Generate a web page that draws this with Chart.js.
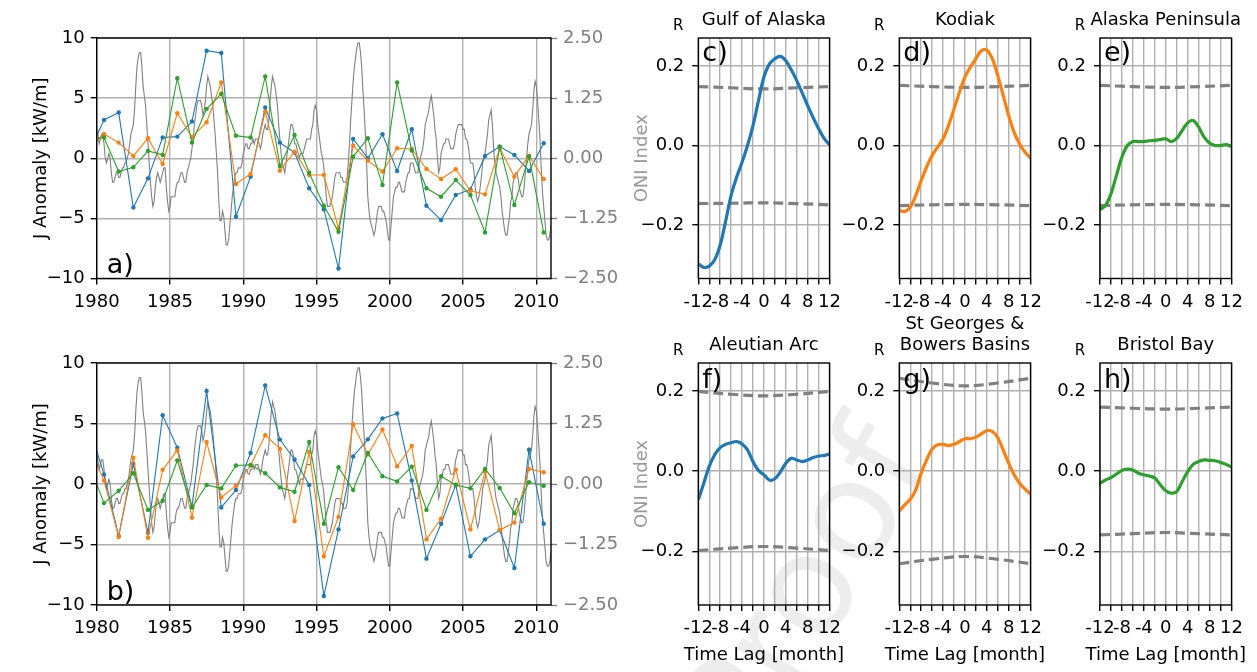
<!DOCTYPE html>
<html>
<head>
<meta charset="utf-8">
<title>J anomalies and ONI lag correlations</title>
<script src="https://cdn.jsdelivr.net/npm/chart.js@4.4.1/dist/chart.umd.min.js"></script>
<style>
  html, body { margin: 0; padding: 0; background: #fff; }
  body { position: relative; width: 1257px; height: 672px; overflow: hidden; font-family: "DejaVu Sans", sans-serif; }
  canvas { position: absolute; }
  #stamp {
    position: absolute; left: 653px; top: 710px; font-size: 140px; line-height: 1; color: rgba(0, 0, 0, 0.07);
    transform: rotate(-60deg); transform-origin: 0 0; pointer-events: none; white-space: nowrap;
  }
</style>
</head>
<body>
<div id="stamp">Proof</div>
<script>
const YEARS = [1979, 1980, 1981, 1982, 1983, 1984, 1985, 1986, 1987, 1988, 1989, 1990, 1991, 1992, 1993, 1994, 1995,
               1996, 1997, 1998, 1999, 2000, 2001, 2002, 2003, 2004, 2005, 2006, 2007, 2008, 2009, 2010];

// annual J anomalies [kW/m], one value per year
const GULF_OF_ALASKA   = [0.53, 3.19, 3.8, -4.1, -1.67, 1.72, 1.8, 3.05, 8.94, 8.75, -4.87, -1.53, 4.22, 1.3, 0.47, -2.5, -4.24,
                          -9.17, 1.61, 0.0, 2.0, -1.06, 2.41, -3.95, -5.14, -3.06, -2.59, 0.19, 0.97, 0.27, -1.06, 1.25];
const KODIAK           = [0.78, 2.02, 1.3, 0.19, 1.66, -0.48, 3.75, 1.75, 3.0, 6.3, -2.14, -1.31, 3.88, -1.03, 0.55, -1.39, -1.39,
                          -5.84, 1.05, -0.2, -1.1, 0.83, 0.77, -0.89, -1.73, -0.92, -2.7, -3.0, 0.83, -1.53, 0.22, -1.73];
const ALASKA_PENINSULA = [1.6, 1.72, -1.1, -0.75, 0.61, 0.28, 6.66, 1.3, 4.11, 5.36, 1.88, 1.72, 6.8, -0.64, 1.94, -1.2, -3.95,
                          -6.12, 0.14, 1.66, -2.23, 6.3, 0.64, -2.5, -3.2, -1.81, -3.06, -6.17, 0.97, -3.89, 0.14, -6.17];
const ALEUTIAN_ARC     = [4.78, 0.78, -4.3, 1.67, -4.03, 5.69, 3.0, -1.89, 7.69, -1.94, -0.5, 2.56, 8.14, 3.67, 2.03, -0.08, -9.25,
                          -3.75, 2.28, 3.69, 5.42, 5.83, 0.28, -6.17, -3.28, -0.06, -5.97, -4.58, -3.83, -6.94, 2.83, -3.28];
const ST_GEORGES       = [3.06, 0.28, -4.39, 2.17, -4.44, 1.17, 2.78, -2.78, 3.47, -1.11, -0.14, 1.53, 4.03, 2.92, -3.06, 2.64, -5.97,
                          -2.72, 4.94, 2.44, 4.5, 1.47, 3.14, -4.58, -2.86, 1.19, -3.75, 1.06, -3.81, -3.19, 1.25, 0.97];
const BRISTOL_BAY      = [1.58, -1.58, -0.56, 0.89, -2.14, -1.39, 1.94, -1.94, -0.08, -0.36, 1.53, 1.58, 0.89, -0.28, -0.64, 3.47, -3.28,
                          1.39, -0.5, 2.56, 0.64, 0.22, 1.44, -2.14, 0.64, -0.08, -0.36, 1.25, -0.33, -2.42, 0.14, -0.14];

// ONI, monthly running 3-month means from Jan 1980
const ONI_START = 1980;
const ONI = [
   0.6,  0.5,  0.3,  0.4,  0.5,  0.5,  0.3,  0.0, -0.1,  0.0,  0.1,  0.0,   // 1980
  -0.3, -0.5, -0.5, -0.4, -0.3, -0.3, -0.4, -0.4, -0.3, -0.2, -0.2, -0.1,   // 1981
  -0.1,  0.0,  0.1,  0.3,  0.5,  0.6,  0.7,  1.0,  1.5,  1.9,  2.1,  2.2,   // 1982
   2.2,  1.9,  1.5,  1.3,  1.1,  0.7,  0.3, -0.1, -0.5, -0.8, -1.0, -0.9,   // 1983
  -0.6, -0.4, -0.3, -0.4, -0.5, -0.4, -0.3, -0.2, -0.2, -0.6, -0.9, -1.1,   // 1984
  -1.0, -0.8, -0.8, -0.8, -0.8, -0.6, -0.5, -0.5, -0.4, -0.3, -0.3, -0.4,   // 1985
  -0.5, -0.5, -0.3, -0.2, -0.1,  0.0,  0.2,  0.4,  0.7,  0.9,  1.1,  1.2,   // 1986
   1.2,  1.2,  1.1,  0.9,  1.0,  1.2,  1.5,  1.7,  1.6,  1.5,  1.3,  1.1,   // 1987
   0.8,  0.5,  0.1, -0.3, -0.9, -1.3, -1.3, -1.1, -1.2, -1.5, -1.8, -1.8,   // 1988
  -1.7, -1.4, -1.1, -0.8, -0.6, -0.4, -0.3, -0.3, -0.2, -0.2, -0.2, -0.1,   // 1989
   0.1,  0.2,  0.3,  0.3,  0.2,  0.2,  0.3,  0.3,  0.4,  0.3,  0.4,  0.4,   // 1990
   0.4,  0.3,  0.2,  0.3,  0.5,  0.6,  0.7,  0.6,  0.6,  0.8,  1.2,  1.5,   // 1991
   1.7,  1.6,  1.5,  1.3,  1.1,  0.7,  0.4,  0.1, -0.1, -0.2, -0.3, -0.1,   // 1992
   0.1,  0.3,  0.5,  0.7,  0.7,  0.6,  0.3,  0.3,  0.2,  0.1,  0.0,  0.1,   // 1993
   0.1,  0.1,  0.2,  0.3,  0.4,  0.4,  0.4,  0.4,  0.6,  0.7,  1.0,  1.1,   // 1994
   1.0,  0.7,  0.5,  0.3,  0.1,  0.0, -0.2, -0.5, -0.8, -1.0, -1.0, -1.0,   // 1995
  -0.9, -0.8, -0.6, -0.4, -0.3, -0.3, -0.3, -0.3, -0.4, -0.4, -0.5, -0.5,   // 1996
  -0.5, -0.4, -0.1,  0.3,  0.8,  1.2,  1.6,  1.9,  2.1,  2.3,  2.4,  2.4,   // 1997
   2.2,  1.9,  1.4,  1.0,  0.5, -0.1, -0.8, -1.1, -1.3, -1.4, -1.5, -1.6,   // 1998
  -1.5, -1.3, -1.1, -1.0, -1.0, -1.0, -1.1, -1.1, -1.2, -1.3, -1.5, -1.7,   // 1999
  -1.7, -1.4, -1.1, -0.8, -0.7, -0.6, -0.6, -0.5, -0.5, -0.6, -0.7, -0.7,   // 2000
  -0.7, -0.5, -0.4, -0.3, -0.3, -0.1, -0.1, -0.1, -0.2, -0.3, -0.3, -0.3,   // 2001
  -0.1,  0.0,  0.1,  0.2,  0.4,  0.7,  0.8,  0.9,  1.0,  1.2,  1.3,  1.1,   // 2002
   0.9,  0.6,  0.4,  0.0, -0.3, -0.2,  0.1,  0.2,  0.3,  0.3,  0.4,  0.4,   // 2003
   0.4,  0.3,  0.2,  0.2,  0.2,  0.3,  0.5,  0.6,  0.7,  0.7,  0.7,  0.7,   // 2004
   0.6,  0.6,  0.4,  0.4,  0.3,  0.1, -0.1, -0.1, -0.1, -0.3, -0.6, -0.8,   // 2005
  -0.9, -0.8, -0.6, -0.4, -0.1,  0.0,  0.1,  0.3,  0.5,  0.8,  0.9,  1.0,   // 2006
   0.7,  0.2, -0.1, -0.3, -0.4, -0.5, -0.6, -0.8, -1.1, -1.3, -1.5, -1.6,   // 2007
  -1.6, -1.4, -1.2, -0.9, -0.8, -0.5, -0.4, -0.3, -0.3, -0.4, -0.6, -0.7,   // 2008
  -0.8, -0.8, -0.6, -0.3,  0.0,  0.3,  0.5,  0.6,  0.7,  1.0,  1.4,  1.6,   // 2009
   1.5,  1.2,  0.8,  0.4, -0.2, -0.7, -1.0, -1.3, -1.6, -1.7, -1.7, -1.6,   // 2010
  -1.4                                                                      // 2011
];

// lagged correlation R between regional J and ONI
const LAGS = [-12, -11, -10, -9, -8, -7, -6, -5, -4, -3, -2, -1, 0, 1, 2, 3, 4, 5, 6, 7, 8, 9, 10, 11, 12];
const R_GULF     = [-0.297, -0.306, -0.303, -0.287, -0.25, -0.19, -0.125, -0.08, -0.042, 0.0, 0.05, 0.112, 0.172,
                    0.205, 0.218, 0.224, 0.213, 0.19, 0.163, 0.132, 0.1, 0.07, 0.042, 0.018, 0.002];
const R_KODIAK   = [-0.163, -0.166, -0.155, -0.126, -0.088, -0.054, -0.025, -0.004, 0.017, 0.05, 0.092, 0.134, 0.172,
                    0.197, 0.218, 0.238, 0.24, 0.218, 0.176, 0.126, 0.075, 0.033, 0.004, -0.017, -0.032];
const R_PENINSULA= [-0.161, -0.151, -0.121, -0.075, -0.029, 0.0, 0.01, 0.01, 0.01, 0.012, 0.013, 0.015, 0.017,
                    0.01, 0.018, 0.038, 0.057, 0.063, 0.046, 0.021, 0.006, 0.0, 0.0, 0.002, -0.002];
const R_ALEUTIAN = [-0.071, -0.03, 0.012, 0.041, 0.059, 0.067, 0.071, 0.074, 0.068, 0.053, 0.024, 0.002, -0.009,
                    -0.022, -0.019, -0.002, 0.02, 0.032, 0.028, 0.024, 0.028, 0.034, 0.038, 0.039, 0.043];
const R_GEORGES  = [-0.1, -0.084, -0.07, -0.047, -0.005, 0.028, 0.055, 0.066, 0.067, 0.064, 0.067, 0.074, 0.081,
                    0.081, 0.085, 0.093, 0.101, 0.099, 0.084, 0.053, 0.02, -0.009, -0.03, -0.045, -0.057];
const R_BRISTOL  = [-0.03, -0.022, -0.016, -0.007, 0.002, 0.005, 0.003, -0.005, -0.009, -0.012, -0.017, -0.034, -0.049,
                    -0.055, -0.051, -0.026, -0.001, 0.017, 0.024, 0.028, 0.027, 0.026, 0.022, 0.017, 0.01];

// 95% significance bounds
const SIG_LAGS = [-12, -6, 0, 6, 12];
const SIG_GULF      = [[0.148, 0.145, 0.142, 0.145, 0.148], [-0.146, -0.145, -0.144, -0.146, -0.149]];
const SIG_KODIAK    = [[0.151, 0.148, 0.146, 0.148, 0.151], [-0.151, -0.149, -0.148, -0.149, -0.151]];
const SIG_PENINSULA = [[0.151, 0.148, 0.146, 0.148, 0.151], [-0.151, -0.149, -0.148, -0.149, -0.151]];
const SIG_ALEUTIAN  = [[0.199, 0.192, 0.188, 0.192, 0.199], [-0.198, -0.192, -0.188, -0.192, -0.198]];
const SIG_GEORGES   = [[0.232, 0.220, 0.213, 0.220, 0.232], [-0.231, -0.220, -0.213, -0.220, -0.231]];
const SIG_BRISTOL   = [[0.160, 0.157, 0.155, 0.157, 0.160], [-0.159, -0.156, -0.153, -0.156, -0.159]];

const YEAR_TICKS = [1980, 1985, 1990, 1995, 2000, 2005, 2010];
const J_TICKS = [-10, -5, 0, 5, 10];
const ONI_TICKS = [-2.5, -1.25, 0, 1.25, 2.5];
const LAG_TICKS = [-12, -10, -8, -6, -4, -2, 0, 2, 4, 6, 8, 10, 12];
const R_TICKS = [-0.2, 0, 0.2];

const BLUE = "#1f77b4", ORANGE = "#ff7f0e", GREEN = "#2ca02c", GREY = "#808080", GRID = "#b0b0b0";
const FONT = '"DejaVu Sans", sans-serif';

Chart.defaults.font.family = FONT;
Chart.defaults.font.size = 18;
Chart.defaults.color = "#000";

const minus = s => String(s).replace("-", "\u2212");
const fixTicks = list => s => { s.ticks = list.map(value => ({ value })); };

// black box round each plot area
const frame = {
  id: "frame",
  afterDatasetsDraw(chart) {
    const { ctx, chartArea: a } = chart;
    ctx.save();
    ctx.strokeStyle = "#000";
    ctx.lineWidth = 1.4;
    ctx.strokeRect(a.left, a.top, a.right - a.left, a.bottom - a.top);
    ctx.restore();
  }
};

// panel letter, region title, the "R" tag and the lag axis label
const panelText = {
  id: "panelText",
  afterDraw(chart, args, o) {
    const { ctx, chartArea: a } = chart;
    const cx = (a.left + a.right) / 2;
    ctx.save();
    ctx.fillStyle = "#000";
    ctx.textBaseline = "alphabetic";
    if (o.title) {
      ctx.font = `18px ${FONT}`;
      ctx.textAlign = "center";
      o.title.forEach((line, i) => ctx.fillText(line, cx, a.top - 13.5 - (o.title.length - 1 - i) * 21));
      ctx.font = `15px ${FONT}`;
      ctx.fillText("R", a.left - 20, a.top - 8);
    }
    if (o.xTitle) {
      ctx.font = `18px ${FONT}`;
      ctx.textAlign = "center";
      ctx.textBaseline = "middle";
      ctx.fillText(o.xTitle, cx, a.bottom + 50);
      ctx.textBaseline = "alphabetic";
    }
    if (o.letter) {
      ctx.font = `27px ${FONT}`;
      ctx.textAlign = "left";
      ctx.fillText(o.letter, a.left + o.dx, o.fromTop ? a.top + o.dy : a.bottom - o.dy);
    }
    ctx.restore();
  }
};
Chart.register(frame, panelText);

function mount(area, cv) {
  const canvas = document.createElement("canvas");
  canvas.width = cv.right - cv.left;
  canvas.height = cv.bottom - cv.top;
  canvas.style.left = cv.left + "px";
  canvas.style.top = cv.top + "px";
  document.body.appendChild(canvas);
  return {
    canvas,
    yWidth: area.x0 - cv.left,
    rightRoom: cv.right - area.x1,
    topRoom: area.y0 - cv.top,
    xHeight: cv.bottom - area.y1
  };
}

const gridStyle = () => ({ color: GRID, lineWidth: 1.4, tickColor: "#000", tickLength: 6, tickWidth: 1.4 });

function anomalyPanel(area, cv, series, letter) {
  const m = mount(area, cv);
  const datasets = series.map(([values, color], k) => ({
    data: values.map((v, i) => ({ x: YEARS[i] + 0.5, y: v })),
    yAxisID: "y",
    borderColor: color,
    backgroundColor: color,
    borderWidth: 1.1,
    pointRadius: 2.2,
    pointBorderWidth: 0,
    order: 3 - k
  }));
  datasets.push({
    data: ONI.map((v, i) => ({ x: ONI_START + i / 12, y: v })),
    yAxisID: "y2",
    borderColor: GREY,
    borderWidth: 1.1,
    pointRadius: 0,
    order: 10
  });

  new Chart(m.canvas, {
    type: "line",
    data: { datasets },
    options: {
      responsive: false,
      animation: false,
      events: [],
      layout: { padding: { left: 0, right: 0, top: m.topRoom, bottom: 0 } },
      plugins: {
        legend: { display: false },
        tooltip: { enabled: false },
        panelText: { letter, dx: 10, dy: 5.5, fromTop: false }
      },
      scales: {
        x: {
          type: "linear", min: 1980, max: 2011,
          afterBuildTicks: fixTicks(YEAR_TICKS),
          afterFit: s => { s.height = m.xHeight; },
          ticks: { callback: v => String(v), padding: 7, maxRotation: 0, autoSkip: false },
          grid: gridStyle(),
          border: { display: false }
        },
        y: {
          position: "left", min: -10, max: 10,
          afterBuildTicks: fixTicks(J_TICKS),
          afterFit: s => { s.width = m.yWidth; },
          ticks: { callback: v => minus(v), padding: 6 },
          grid: gridStyle(),
          border: { display: false },
          title: { display: true, text: "J Anomaly [kW/m]", padding: { top: 30.2, bottom: 0 } }
        },
        y2: {
          position: "right", min: -2.5, max: 2.5,
          afterBuildTicks: fixTicks(ONI_TICKS),
          afterFit: s => { s.width = m.rightRoom; },
          ticks: { color: GREY, callback: v => minus(v.toFixed(2)), padding: 6 },
          grid: { drawOnChartArea: false, color: GREY, tickColor: GREY, tickLength: 6, tickWidth: 1.4 },
          border: { display: false }
        }
      }
    }
  });
}

function lagPanel(area, cv, r, sig, color, title, letter, opts) {
  const m = mount(area, cv);
  const dashed = values => ({
    data: values.map((v, i) => ({ x: SIG_LAGS[i], y: v })),
    borderColor: GREY,
    borderWidth: 3.2,
    borderDash: [10, 5],
    pointRadius: 0,
    tension: 0.4,
    order: 2
  });
  new Chart(m.canvas, {
    type: "line",
    data: {
      datasets: [
        {
          data: r.map((v, i) => ({ x: LAGS[i], y: v })),
          borderColor: color,
          borderWidth: 3.2,
          pointRadius: 0,
          tension: 0.35,
          order: 1
        },
        dashed(sig[0]),
        dashed(sig[1])
      ]
    },
    options: {
      responsive: false,
      animation: false,
      events: [],
      layout: { padding: { left: 0, right: m.rightRoom, top: m.topRoom, bottom: 0 } },
      plugins: {
        legend: { display: false },
        tooltip: { enabled: false },
        panelText: {
          title, letter, dx: 4, dy: opts.letterDy, fromTop: true,
          xTitle: opts.xTitle ? "Time Lag [month]" : null
        }
      },
      scales: {
        x: {
          type: "linear", min: -12, max: 12,
          afterBuildTicks: fixTicks(LAG_TICKS),
          afterFit: s => { s.height = m.xHeight; },
          ticks: { callback: v => (v % 4 === 0 ? String(v) : ""), padding: 7, maxRotation: 0, autoSkip: false },
          grid: gridStyle(),
          border: { display: false }
        },
        y: {
          min: -0.334, max: 0.27,
          afterBuildTicks: fixTicks(R_TICKS),
          afterFit: s => { s.width = m.yWidth; },
          ticks: { callback: v => minus(v.toFixed(1)), padding: 8 },
          grid: gridStyle(),
          border: { display: false },
          title: { display: !!opts.yTitle, text: "ONI Index", color: "#999999", padding: { top: 5.2, bottom: 0 } }
        }
      }
    }
  });
}

// left column: J anomaly time series with ONI
const TOP = { y0: 38, y1: 278.5 }, BOTTOM = { y0: 363, y1: 605 };
anomalyPanel({ x0: 96.7, x1: 551, ...TOP }, { left: 0, top: 0, right: 630, bottom: 320 },
  [[GULF_OF_ALASKA, BLUE], [KODIAK, ORANGE], [ALASKA_PENINSULA, GREEN]], "a)");
anomalyPanel({ x0: 96.7, x1: 551, ...BOTTOM }, { left: 0, top: 322, right: 630, bottom: 672 },
  [[ALEUTIAN_ARC, BLUE], [ST_GEORGES, ORANGE], [BRISTOL_BAY, GREEN]], "b)");

// right block: lag correlations
const COLS = [{ x0: 698.3, x1: 832.3, left: 626, right: 848 },
              { x0: 899.3, x1: 1032.7, left: 827, right: 1049 },
              { x0: 1100, x1: 1233.3, left: 1028, right: 1250 }];
const topRow = [[R_GULF, SIG_GULF, BLUE, ["Gulf of Alaska"], "c)"],
                [R_KODIAK, SIG_KODIAK, ORANGE, ["Kodiak"], "d)"],
                [R_PENINSULA, SIG_PENINSULA, GREEN, ["Alaska Peninsula"], "e)"]];
const bottomRow = [[R_ALEUTIAN, SIG_ALEUTIAN, BLUE, ["Aleutian Arc"], "f)"],
                   [R_GEORGES, SIG_GEORGES, ORANGE, ["St Georges &", "Bowers Basins"], "g)"],
                   [R_BRISTOL, SIG_BRISTOL, GREEN, ["Bristol Bay"], "h)"]];

topRow.forEach(([r, sig, color, title, letter], i) => {
  const c = COLS[i];
  lagPanel({ x0: c.x0, x1: c.x1, ...TOP }, { left: c.left, right: c.right, top: 0, bottom: 320 },
    r, sig, color, title, letter, { yTitle: i === 0, xTitle: false, letterDy: 22.5 });
});
bottomRow.forEach(([r, sig, color, title, letter], i) => {
  const c = COLS[i];
  lagPanel({ x0: c.x0, x1: c.x1, ...BOTTOM }, { left: c.left, right: c.right, top: 305, bottom: 672 },
    r, sig, color, title, letter, { yTitle: i === 0, xTitle: true, letterDy: 25 });
});
</script>
</body>
</html>
